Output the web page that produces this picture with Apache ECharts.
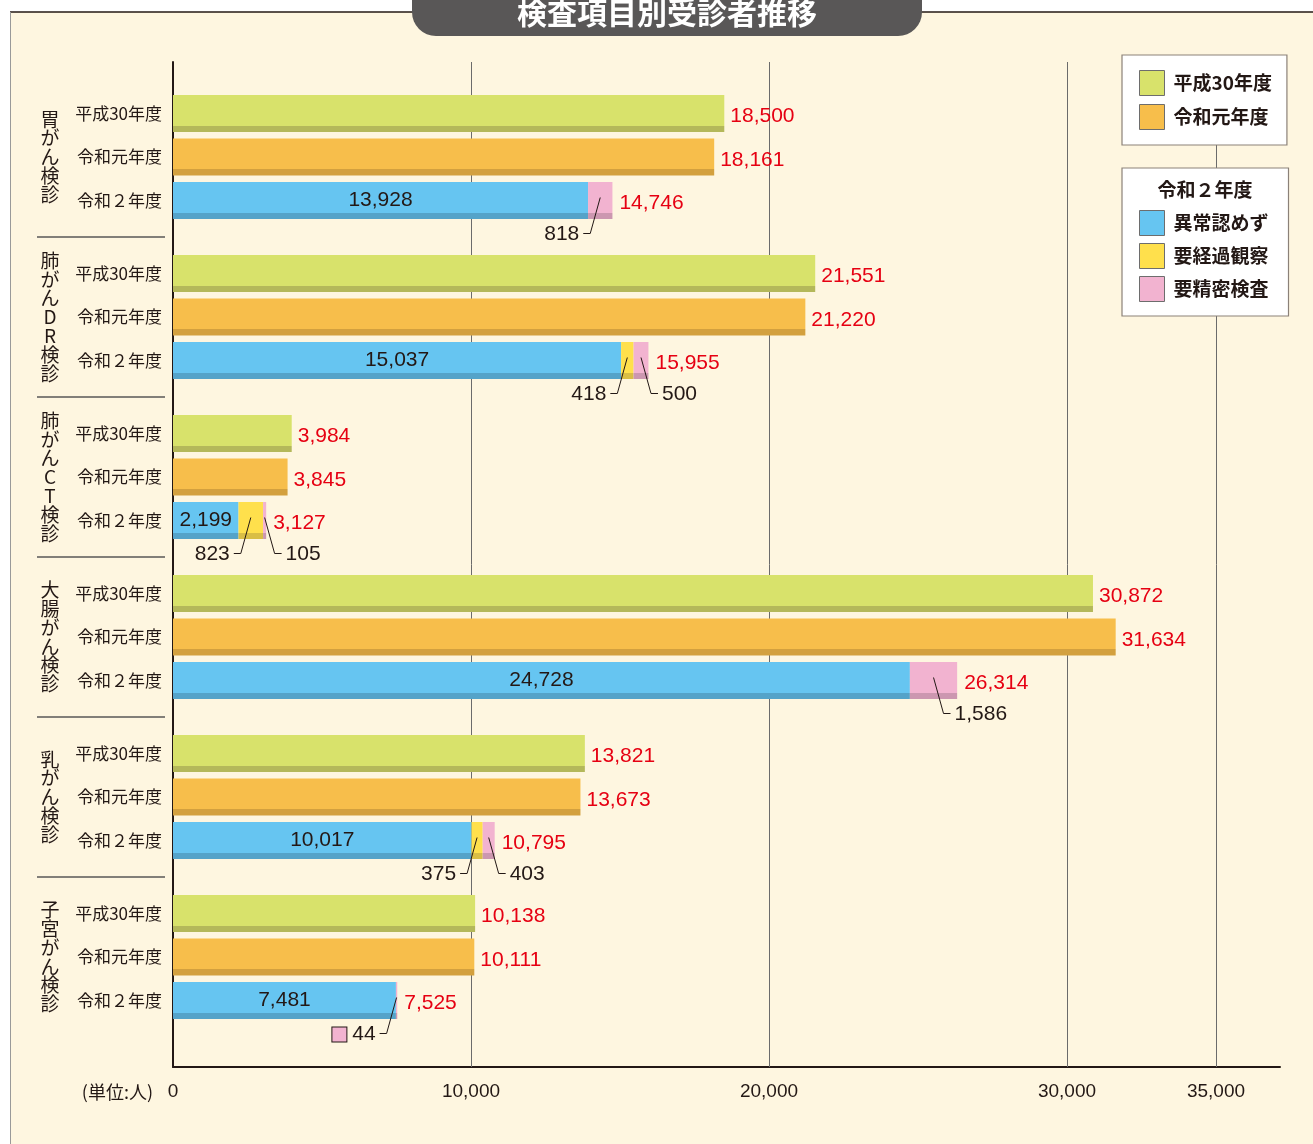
<!DOCTYPE html>
<html>
<head>
<meta charset="utf-8">
<script src="https://cdn.jsdelivr.net/npm/echarts@6/dist/echarts.min.js"></script>
<style>
html,body{margin:0;padding:0;background:#fff}
#main{width:1313px;height:1144px}
</style>
</head>
<body>
<div id="main"></div>
<script>
// 検査項目別受診者推移
var groups = ['胃がん検診', '肺がんDR検診', '肺がんCT検診', '大腸がん検診', '乳がん検診', '子宮がん検診'];
var rows = ['平成30年度', '令和元年度', '令和２年度'];
var h30 = [18500, 21551, 3984, 30872, 13821, 10138];
var r1 = [18161, 21220, 3845, 31634, 13673, 10111];
var r2Normal = [13928, 15037, 2199, 24728, 10017, 7481];   // 異常認めず
var r2Watch = [0, 418, 823, 0, 375, 0];                      // 要経過観察
var r2Detail = [818, 500, 105, 1586, 403, 44];               // 要精密検査
var tickValues = [0, 10000, 20000, 30000, 35000];
var gridValues = [10000, 20000, 30000, 35000];

// 注記の向き (l:左下 / r:右下) と小さい色見本
var detailSide = ['l', 'r', 'r', 'r', 'r', 'l'];
var detailMark = [false, false, false, false, false, true];

var AXIS_MAX = 37148;
var DARK = '#231815';
var RED = '#E60012';
var CJK = '"Noto Sans CJK JP", sans-serif';
var NUM = '"Liberation Sans", "Noto Sans CJK JP", sans-serif';
var NARROW = '"Liberation Sans Narrow", "Liberation Sans", sans-serif';

var COL = {
    h30: ['#D8E26B', '#B4B85A'],
    r1: ['#F7BE4B', '#D3A03E'],
    normal: ['#66C5F1', '#54A3C9'],
    watch: ['#FFE04C', '#D9BE45'],
    detail: ['#F2B3D0', '#CC97B0']
};

function grad(c){
    return new echarts.graphic.LinearGradient(0, 0, 0, 1, [
        {offset: 0, color: c[0]}, {offset: 0.83, color: c[0]},
        {offset: 0.83, color: c[1]}, {offset: 1, color: c[1]}
    ]);
}
function fmt(v){ return Number(v).toLocaleString('en-US'); }

var chart = echarts.init(document.getElementById('main'));

var grids = [{left: 173, right: 33, top: 62, bottom: 77}];
var xAxes = [{
    type: 'value', gridIndex: 0, min: 0, max: AXIS_MAX, interval: 5000,
    axisLine: {show: true, lineStyle: {color: DARK, width: 2}},
    axisTick: {show: false},
    splitLine: {show: false},
    axisLabel: {
        margin: 15, fontSize: 19, color: DARK, fontFamily: NARROW,
        formatter: function(v){ return tickValues.indexOf(v) >= 0 ? fmt(v) : ''; }
    }
}];
var yAxes = [{
    type: 'value', gridIndex: 0, min: 0, max: 1,
    axisLine: {show: true, lineStyle: {color: DARK, width: 2}},
    axisTick: {show: false}, axisLabel: {show: false}, splitLine: {show: false}
}];
var series = [{
    type: 'line', xAxisIndex: 0, yAxisIndex: 0, data: [], z: 1, silent: true,
    markLine: {
        silent: true, symbol: 'none', label: {show: false}, z: 1,
        lineStyle: {color: '#6b6b6b', width: 1, type: 'solid'},
        data: gridValues.map(function(v){ return {xAxis: v}; })
    }
}];

var redLabel = {
    show: true, position: 'right', distance: 6, offset: [0, 3], color: RED, fontSize: 21, fontFamily: NUM,
    formatter: function(p){ return fmt(p.value); }
};

groups.forEach(function(name, g){
    var gi = g + 1;
    grids.push({left: 173, right: 33, top: 91.75 + 160 * g, height: 130.5});
    xAxes.push({type: 'value', gridIndex: gi, min: 0, max: AXIS_MAX, show: false});
    yAxes.push({
        type: 'category', gridIndex: gi, data: rows, inverse: true,
        axisLine: {show: false}, axisTick: {show: false}, splitLine: {show: false},
        axisLabel: {margin: 11, fontSize: 17, color: DARK, fontFamily: CJK},
        name: name.split('').join('\n'), nameLocation: 'middle', nameGap: 123, nameRotate: 0,
        nameTextStyle: {align: 'center', verticalAlign: 'middle', fontSize: 19, lineHeight: 18.8, color: DARK, fontFamily: CJK}
    });

    var base = {type: 'bar', xAxisIndex: gi, yAxisIndex: gi, barWidth: 37, barGap: '-100%'};
    series.push(Object.assign({}, base, {
        name: '平成30年度', data: [h30[g], '-', '-'], itemStyle: {color: grad(COL.h30)}, label: redLabel
    }));
    series.push(Object.assign({}, base, {
        name: '令和元年度', data: ['-', r1[g], '-'], itemStyle: {color: grad(COL.r1)}, label: redLabel
    }));
    series.push(Object.assign({}, base, {
        name: '異常認めず', stack: 's' + g, data: ['-', '-', r2Normal[g]], itemStyle: {color: grad(COL.normal)},
        label: {show: true, position: 'inside', offset: [0, 0], color: DARK, fontSize: 21, fontFamily: NUM,
            formatter: function(p){ return fmt(p.value); }}
    }));
    series.push(Object.assign({}, base, {
        name: '要経過観察', stack: 's' + g, data: ['-', '-', r2Watch[g]], itemStyle: {color: grad(COL.watch)}
    }));
    var total = r2Normal[g] + r2Watch[g] + r2Detail[g];
    series.push(Object.assign({}, base, {
        name: '要精密検査', stack: 's' + g, data: ['-', '-', r2Detail[g]], itemStyle: {color: grad(COL.detail)},
        label: {show: true, position: 'right', distance: 7, offset: [0, 3], color: RED, fontSize: 21, fontFamily: NUM,
            formatter: function(){ return fmt(total); }}
    }));

    // 引き出し線つきの内訳注記
    var notes = [];
    if (r2Watch[g] > 0) {
        notes.push({value: [r2Normal[g] + r2Watch[g] / 2, 2], text: fmt(r2Watch[g]), side: 'l', mark: false});
    }
    notes.push({value: [r2Normal[g] + r2Watch[g] + r2Detail[g] / 2, 2], text: fmt(r2Detail[g]),
        side: detailSide[g], mark: detailMark[g]});

    series.push({
        type: 'custom', xAxisIndex: gi, yAxisIndex: gi, z: 5, silent: true,
        encode: {x: 0, y: 1},
        data: notes.map(function(n){ return n.value; }),
        renderItem: function(params, api){
            var n = notes[params.dataIndex];
            var p = api.coord([api.value(0), api.value(1)]);
            var s = n.side === 'l' ? -1 : 1;
            var x0 = p[0], y0 = p[1] - 3;
            var x1 = x0 + s * 10, y1 = p[1] + 33;
            var x2 = x1 + s * 7;
            var txtStyle = {
                text: n.mark ? '{b|} ' + n.text : n.text,
                x: x2 + s * 4, y: y1 + 1,
                align: s < 0 ? 'right' : 'left', verticalAlign: 'middle',
                fill: DARK, fontSize: 21, fontFamily: NUM
            };
            if (n.mark) {
                txtStyle.rich = {b: {width: 14, height: 14, backgroundColor: COL.detail[0], borderColor: DARK, borderWidth: 1}};
            }
            return {
                type: 'group',
                children: [
                    {type: 'polyline', shape: {points: [[x0, y0], [x1, y1], [x2, y1]]},
                        style: {stroke: DARK, lineWidth: 1, fill: null}},
                    {type: 'text', style: txtStyle}
                ]
            };
        }
    });
});

var graphics = [
    {type: 'rect', z: -10, shape: {x: 10, y: 12, width: 1303, height: 1132}, style: {fill: '#FEF6E0'}},
    {type: 'line', z: -9, shape: {x1: 10, y1: 12, x2: 1313, y2: 12}, style: {stroke: DARK, lineWidth: 1.5}},
    {type: 'line', z: -9, shape: {x1: 10.5, y1: 12, x2: 10.5, y2: 1144}, style: {stroke: '#999', lineWidth: 1}},
    {type: 'rect', z: 100, shape: {x: 412, y: -26, width: 510, height: 62, r: 24}, style: {fill: '#595757'}},
    {type: 'text', z: 101, x: 667, y: 13, style: {text: '検査項目別受診者推移', fill: '#fff',
        font: 'bold 30px "Noto Sans CJK JP"', align: 'center', verticalAlign: 'middle',
        textAlign: 'center', textVerticalAlign: 'middle'}},
    {type: 'text', z: 100, x: 1205, y: 190, style: {text: '令和２年度', fill: DARK,
        font: 'bold 19px "Noto Sans CJK JP"', align: 'center', verticalAlign: 'middle',
        textAlign: 'center', textVerticalAlign: 'middle'}},
    {type: 'text', z: 10, x: 153, y: 1092, style: {text: '(単位:人)', fill: DARK,
        font: '18px "Noto Sans CJK JP"', align: 'right', verticalAlign: 'middle',
        textAlign: 'right', textVerticalAlign: 'middle'}}
];
for (var i = 0; i < groups.length - 1; i++) {
    var yy = 237 + 160 * i;
    graphics.push({type: 'line', shape: {x1: 37, y1: yy, x2: 165, y2: yy}, style: {stroke: '#595757', lineWidth: 1.5}});
}

function legendItem(name, c){
    return {name: name, itemStyle: {color: c[0], borderColor: '#6d6d6d', borderWidth: 1}};
}
var legendText = {fontSize: 19, fontWeight: 'bold', color: DARK, fontFamily: CJK, padding: [0, 0, 0, 4]};

chart.setOption({
    backgroundColor: '#fff',
    animation: false,
    grid: grids,
    xAxis: xAxes,
    yAxis: yAxes,
    legend: [{
        data: [legendItem('平成30年度', COL.h30), legendItem('令和元年度', COL.r1)],
        orient: 'vertical', left: 1122, top: 55, icon: 'rect', z: 20,
        itemWidth: 25, itemHeight: 25, itemGap: 8, padding: [15, 15, 15, 17],
        backgroundColor: '#fff', borderColor: '#8b8178', borderWidth: 1.2,
        textStyle: legendText, selectedMode: false
    }, {
        data: [legendItem('異常認めず', COL.normal), legendItem('要経過観察', COL.watch), legendItem('要精密検査', COL.detail)],
        orient: 'vertical', left: 1122, top: 168, icon: 'rect', z: 20,
        itemWidth: 25, itemHeight: 25, itemGap: 7, padding: [42, 20, 14, 17],
        backgroundColor: '#fff', borderColor: '#8b8178', borderWidth: 1.2,
        textStyle: legendText, selectedMode: false
    }],
    graphic: graphics,
    series: series
});
</script>
</body>
</html>
